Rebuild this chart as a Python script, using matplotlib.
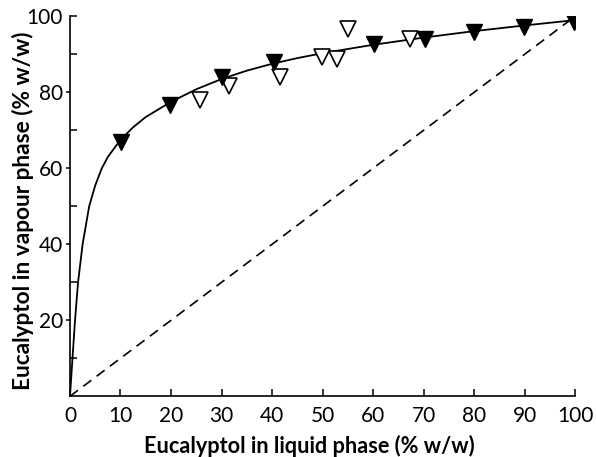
import numpy as np
import matplotlib.pyplot as plt
from matplotlib.ticker import FixedLocator, FixedFormatter

# measured points, filled symbols
liq_filled = [10.1, 19.9, 30.0, 40.3, 60.2, 70.3, 80.0, 89.9, 99.7]
vap_filled = [67.0, 76.7, 83.9, 88.1, 92.7, 93.9, 95.9, 97.1, 98.6]

# measured points, open symbols
liq_open = [25.7, 31.5, 41.6, 49.8, 52.9, 55.1, 67.3]
vap_open = [78.0, 81.7, 83.9, 89.4, 88.7, 96.6, 93.9]

# equilibrium curve drawn through the data
curve_x = [0, 0.5, 1.0, 1.6, 2.5, 3.8, 5.0, 6.3, 7.5, 10, 12.5, 15, 20, 25, 30,
           35, 40, 45, 50, 60, 70, 80, 90, 100]
curve_y = [0, 10, 20, 30, 40, 50, 55.5, 60, 63, 67.5, 70.8, 73.5, 77.5, 80.8, 83.5,
           85.7, 87.5, 89.0, 90.3, 92.5, 94.4, 96.1, 97.6, 99.0]

# x = y reference line
diag = [0, 100]

plt.rcParams['font.family'] = ['Lato', 'DejaVu Sans']

fig = plt.figure(figsize=(5.96, 4.57), dpi=100)
ax = fig.add_axes([0.1174, 0.1328, 0.8476, 0.8315])

ax.plot(curve_x, curve_y, '-', color='black', lw=1.3, zorder=2)
ax.plot(diag, diag, '--', color='black', lw=1.2, dashes=(6, 4), zorder=1)
ax.plot(liq_open, vap_open, 'v', ms=11, mfc='white', mec='black', mew=1.2,
        zorder=3)
ax.plot(liq_filled, vap_filled, 'v', ms=11, mfc='black', mec='black', zorder=4)

ax.set_xlim(0, 100)
ax.set_ylim(0, 100)
for s in ['top', 'right']:
    ax.spines[s].set_visible(False)
for s in ['left', 'bottom']:
    ax.spines[s].set_linewidth(1.2)

ax.set_xticks(np.arange(0, 101, 10))
ax.tick_params(axis='x', direction='in', length=5, width=1.1, pad=7,
               labelsize=15)

ax.yaxis.set_major_locator(FixedLocator([20, 40, 60, 80]))
ax.yaxis.set_minor_locator(FixedLocator([10, 30, 50, 70, 90, 100]))
ax.yaxis.set_minor_formatter(FixedFormatter(['', '', '', '', '', '100']))
ax.tick_params(axis='y', which='major', direction='out', length=3, width=1.1,
               pad=2, labelsize=15)
ax.tick_params(axis='y', which='minor', direction='in', length=5, width=1.1,
               pad=5, labelsize=15)

ax.set_xlabel('Eucalyptol in liquid phase (% w/w)', fontsize=15.6,
              fontweight='bold')
ax.xaxis.set_label_coords(0.473, -0.102)
ax.set_ylabel('Eucalyptol in vapour phase (% w/w)', fontsize=16.3,
              fontweight='bold')
ax.yaxis.set_label_coords(-0.072, 0.488)

fig.savefig('out.png', dpi=100)
